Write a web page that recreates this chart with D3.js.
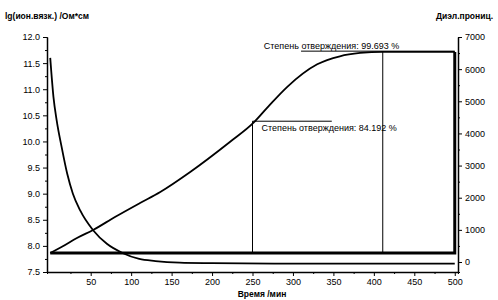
<!DOCTYPE html>
<html>
<head>
<meta charset="utf-8">
<script src="https://cdn.jsdelivr.net/npm/d3@7"></script>
<style>
  body { margin: 0; background: #fff; }
  svg { display: block; font-family: "Liberation Sans", Arial, sans-serif; }
  .axis path, .axis line { stroke: #000; }
  .axis text { font-size: 9px; fill: #000; }
</style>
</head>
<body>
<svg id="chart" width="498" height="300"></svg>
<script>
// time, min
var lgTime = [0, 4, 8, 14, 21, 28, 37, 53, 70, 90, 110, 130, 160, 200, 300, 400, 500];
// lg(ion viscosity), left axis
var lgValues = [11.6, 10.85, 10.4, 9.9, 9.38, 9.0, 8.68, 8.3, 8.04, 7.86, 7.75, 7.71, 7.68, 7.67, 7.66, 7.66, 7.66];

// dielectric permittivity, right axis
var dpTime = [0, 15, 33, 53, 80, 111, 136, 173, 222, 251, 270, 293, 330, 358, 383, 411, 450, 500, 500, 0];
var dpValues = [280, 480, 747, 996, 1400, 1836, 2178, 2800, 3733, 4325, 4850, 5450, 6150, 6400, 6503, 6540, 6540, 6535, 280, 280];

// degree of cure markers
var cureTime = [250, 411];
var cureValue = [4380, 6560];
var cureText = ["Степень отверждения: 84.192 %", "Степень отверждения: 99.693 %"];

var xTicks = [50, 100, 150, 200, 250, 300, 350, 400, 450, 500];
var leftTicks = [7.5, 8.0, 8.5, 9.0, 9.5, 10.0, 10.5, 11.0, 11.5, 12.0];
var rightTicks = [0, 1000, 2000, 3000, 4000, 5000, 6000, 7000];

var svg = d3.select("#chart");

var x = d3.scaleLinear().domain([-4, 504]).range([47, 458]);
var yL = d3.scaleLinear().domain([7.5, 12]).range([272, 37]);
var yR = d3.scaleLinear().domain([-311, 7000]).range([272, 37]);

// minor ticks
var xMinor = d3.range(25, 501, 50);
var lMinor = d3.range(7.75, 12, 0.5);
var rMinor = d3.range(500, 7000, 1000);

svg.append("g").attr("class", "axis")
  .attr("transform", "translate(0,272)")
  .call(d3.axisBottom(x).tickValues(xMinor).tickSize(2).tickFormat(""));
svg.append("g").attr("class", "axis")
  .attr("transform", "translate(0,272)")
  .call(d3.axisBottom(x).tickValues(xTicks).tickSize(4).tickSizeOuter(0).tickFormat(d3.format("d")))
  .select(".domain").attr("stroke-width", 1.5);

svg.append("g").attr("class", "axis")
  .attr("transform", "translate(47,0)")
  .call(d3.axisLeft(yL).tickValues(lMinor).tickSize(2).tickFormat(""));
svg.append("g").attr("class", "axis")
  .attr("transform", "translate(47,0)")
  .call(d3.axisLeft(yL).tickValues(leftTicks).tickSize(4).tickSizeOuter(0).tickFormat(d3.format(".1f")))
  .select(".domain").attr("stroke-width", 1.5);

svg.append("g").attr("class", "axis")
  .attr("transform", "translate(458,0)")
  .call(d3.axisRight(yR).tickValues(rMinor).tickSize(2).tickFormat(""));
svg.append("g").attr("class", "axis")
  .attr("transform", "translate(458,0)")
  .call(d3.axisRight(yR).tickValues(rightTicks).tickSize(4).tickSizeOuter(0).tickFormat(d3.format("d")))
  .select(".domain").attr("stroke-width", 1.5);

// axis titles
svg.append("text").attr("x", 5).attr("y", 19)
  .attr("font-size", 8.5).attr("font-weight", "bold").text("lg(ион.вязк.) /Ом*см");
svg.append("text").attr("x", 493).attr("y", 19).attr("text-anchor", "end")
  .attr("font-size", 8.5).attr("font-weight", "bold").text("Диэл.прониц.");
svg.append("text").attr("x", 262).attr("y", 297).attr("text-anchor", "middle")
  .attr("font-size", 8.5).attr("font-weight", "bold").text("Время /мин");

// cure marker lines
cureTime.forEach(function(t, i) {
  svg.append("line")
    .attr("x1", x(t)).attr("x2", x(t))
    .attr("y1", yR(cureValue[i])).attr("y2", yR(280))
    .attr("stroke", "#000").attr("stroke-width", 1);
});
svg.append("line")
  .attr("x1", x(cureTime[0])).attr("x2", x(348))
  .attr("y1", yR(cureValue[0])).attr("y2", yR(cureValue[0]))
  .attr("stroke", "#000").attr("stroke-width", 1);
svg.append("line")
  .attr("x1", x(310)).attr("x2", x(500))
  .attr("y1", yR(cureValue[1])).attr("y2", yR(cureValue[1]))
  .attr("stroke", "#000").attr("stroke-width", 1);

svg.append("text").attr("x", x(cureTime[0]) + 9).attr("y", yR(cureValue[0]) + 10)
  .attr("font-size", 9).text(cureText[0]);
svg.append("text").attr("x", x(264)).attr("y", yR(cureValue[1]) - 2)
  .attr("font-size", 9).text(cureText[1]);

// dielectric curve
var dpLine = d3.line()
  .x(function(d) { return x(d[0]); })
  .y(function(d) { return yR(d[1]); })
  .curve(d3.curveMonotoneX);
var dpData = dpTime.map(function(t, i) { return [t, dpValues[i]]; });
svg.append("path")
  .datum(dpData.slice(0, dpData.length - 2))
  .attr("d", dpLine)
  .attr("fill", "none").attr("stroke", "#000").attr("stroke-width", 1.8);
svg.append("path")
  .datum(dpData.slice(dpData.length - 3))
  .attr("d", d3.line().x(function(d) { return x(d[0]); }).y(function(d) { return yR(d[1]); }))
  .attr("fill", "none").attr("stroke", "#000").attr("stroke-width", 3);

// ion viscosity curve
var lgLine = d3.line()
  .x(function(d) { return x(d[0]); })
  .y(function(d) { return yL(d[1]); })
  .curve(d3.curveMonotoneX);
svg.append("path")
  .datum(lgTime.map(function(t, i) { return [t, lgValues[i]]; }))
  .attr("d", lgLine)
  .attr("fill", "none").attr("stroke", "#000").attr("stroke-width", 1.8);
</script>
</body>
</html>
